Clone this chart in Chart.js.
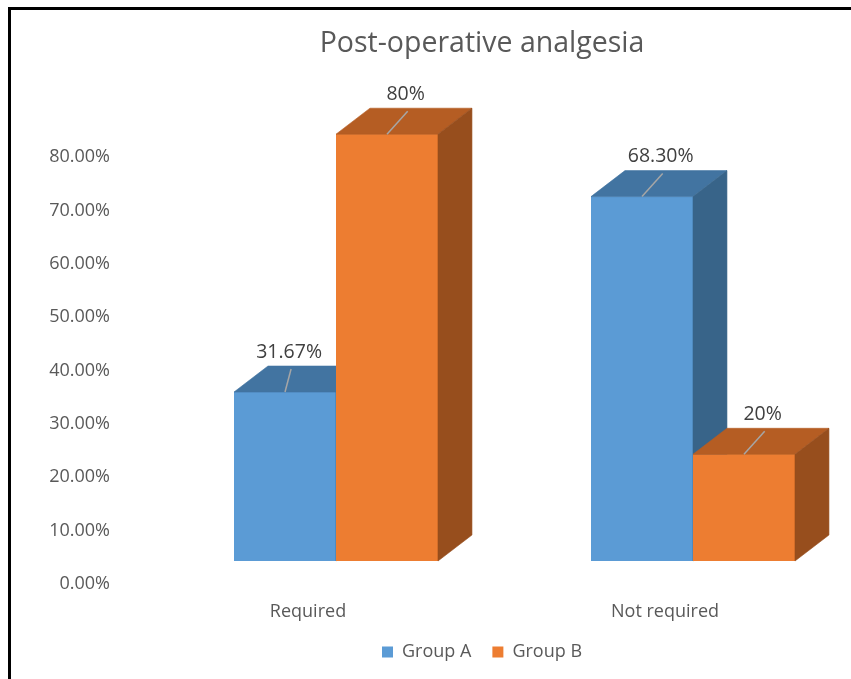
<!DOCTYPE html>
<html>
<head>
<meta charset="utf-8">
<title>Post-operative analgesia</title>
<script src="https://cdn.jsdelivr.net/npm/chart.js@4.4.1/dist/chart.umd.min.js"></script>
<style>
    html, body { margin: 0; padding: 0; background: #fff; }
    #wrap { position: relative; width: 851px; height: 679px; overflow: hidden; }
    #frame {
        position: absolute; left: 8px; top: 7px; right: 0; bottom: 0;
        border-left: 3px solid #000; border-top: 3px solid #000;
    }
    #chart-box { position: absolute; left: 0; top: 0; width: 851px; height: 679px; }
</style>
</head>
<body>
<div id="wrap">
    <div id="frame"></div>
    <div id="chart-box"><canvas id="analgesia-chart"></canvas></div>
</div>
<script>
// =============================
// DATA
// =============================
const categories = ['Required', 'Not required'];
const seriesNames = ['Group A', 'Group B'];
const groupA = [31.67, 68.30];
const groupB = [80, 20];
const groupALabels = ['31.67%', '68.30%'];
const groupBLabels = ['80%', '20%'];
const yTicks = [0, 10, 20, 30, 40, 50, 60, 70, 80];

const seriesValues = [groupA, groupB];
const seriesLabels = [groupALabels, groupBLabels];

// Excel style 3D colours: front / top / side
const frontColors = ['#5b9bd5', '#ed7d31'];
const topColors = ['#4274a1', '#b55d23'];
const sideColors = ['#386489', '#974e1d'];
const textColor = '#595959';
const valueColor = '#404040';
const leaderColor = '#a6a6a6';
const FONT = "'Open Sans', sans-serif";

// depth of the fake 3D, relative to bar width
const DEPTH_X = 0.333;
const DEPTH_Y = 0.255;

function drawFaces(ctx, bar, i) {
    const { x, y, base, width } = bar.getProps(['x', 'y', 'base', 'width'], true);
    const l = x - width / 2, r = x + width / 2;
    const dx = width * DEPTH_X, dy = width * DEPTH_Y;

    ctx.lineWidth = 0.6;
    ctx.fillStyle = topColors[i];
    ctx.strokeStyle = topColors[i];
    ctx.beginPath();
    ctx.moveTo(l, y);
    ctx.lineTo(r, y);
    ctx.lineTo(r + dx, y - dy);
    ctx.lineTo(l + dx, y - dy);
    ctx.closePath();
    ctx.fill();
    ctx.stroke();

    ctx.fillStyle = sideColors[i];
    ctx.strokeStyle = sideColors[i];
    ctx.beginPath();
    ctx.moveTo(r, y);
    ctx.lineTo(r + dx, y - dy);
    ctx.lineTo(r + dx, base - dy);
    ctx.lineTo(r, base);
    ctx.closePath();
    ctx.fill();
    ctx.stroke();
}

// paints series in index order (front, then top + side) so Group B covers Group A's side
const bar3d = {
    id: 'bar3d',
    afterDatasetsDraw(chart) {
        const ctx = chart.ctx;
        ctx.save();
        chart.data.datasets.forEach((ds, i) => {
            chart.getDatasetMeta(i).data.forEach(bar => {
                bar.draw(ctx);
                drawFaces(ctx, bar, i);
            });
        });

        // value labels with leader lines
        ctx.font = "19.5px " + FONT;
        ctx.textAlign = 'center';
        ctx.textBaseline = 'middle';
        chart.data.datasets.forEach((ds, i) => {
            chart.getDatasetMeta(i).data.forEach((bar, j) => {
                const { x, y, width } = bar.getProps(['x', 'y', 'width'], true);
                const text = seriesLabels[i][j];
                const tw = ctx.measureText(text).width;
                let lx = x + width * DEPTH_X * 0.55;
                // keep the label clear of a taller neighbour on the right
                const next = seriesValues[i + 1];
                if (next && next[j] > seriesValues[i][j]) {
                    lx = Math.min(lx, x + width / 2 - tw / 2 - 14);
                }
                ctx.strokeStyle = leaderColor;
                ctx.lineWidth = 1.5;
                ctx.beginPath();
                ctx.moveTo(x, y);
                ctx.lineTo(lx + 2, y - 23);
                ctx.stroke();

                ctx.fillStyle = valueColor;
                ctx.fillText(text, lx, y - 40);
            });
        });
        ctx.restore();
    }
};

function renderAnalgesiaChart() {
    const ctx = document.getElementById('analgesia-chart').getContext('2d');

    new Chart(ctx, {
        type: 'bar',
        data: {
            labels: categories,
            datasets: seriesNames.map((name, i) => ({
                label: name,
                data: seriesValues[i],
                backgroundColor: frontColors[i],
                borderWidth: 0,
                categoryPercentage: 0.5714,
                barPercentage: 1,
                clip: false
            }))
        },
        options: {
            responsive: true,
            maintainAspectRatio: false,
            animation: false,
            layout: { padding: { left: 271, right: 158, top: 0, bottom: 8 } },
            scales: {
                x: {
                    offset: false,
                    grid: { display: false, drawTicks: false },
                    border: { display: false },
                    ticks: {
                        color: textColor,
                        font: { family: FONT, size: 18 },
                        labelOffset: -28,
                        padding: 40,
                        maxRotation: 0,
                        autoSkip: false
                    },
                    afterFit(scale) {
                        scale.height = 61;
                        scale.paddingLeft = 0;
                        scale.paddingRight = 0;
                    }
                },
                y: {
                    min: yTicks[0],
                    max: yTicks[yTicks.length - 1],
                    grid: { display: false, drawTicks: false },
                    border: { display: false },
                    afterBuildTicks(scale) {
                        scale.ticks = yTicks.map(v => ({ value: v }));
                    },
                    ticks: {
                        color: textColor,
                        font: { family: FONT, size: 18 },
                        labelOffset: 23,
                        padding: 226,
                        callback: v => Number(v).toFixed(2) + '%'
                    },
                    afterFit(scale) {
                        scale.width = 65;
                        scale.paddingTop = 0;
                        scale.paddingBottom = 0;
                        // labels sit left of the (narrow) axis box, so don't clip them to it
                        scale._computeLabelArea = () => null;
                    }
                }
            },
            plugins: {
                title: {
                    display: true,
                    text: 'Post-operative analgesia',
                    color: textColor,
                    font: { family: FONT, size: 28.5, weight: 'normal' },
                    padding: { top: 27, bottom: 73 }
                },
                legend: {
                    position: 'bottom',
                    labels: {
                        color: textColor,
                        font: { family: FONT, size: 18 },
                        boxWidth: 11,
                        boxHeight: 11,
                        padding: 21
                    }
                },
                tooltip: { enabled: false }
            }
        },
        plugins: [bar3d]
    });
}

document.addEventListener('DOMContentLoaded', renderAnalgesiaChart);
</script>
</body>
</html>
